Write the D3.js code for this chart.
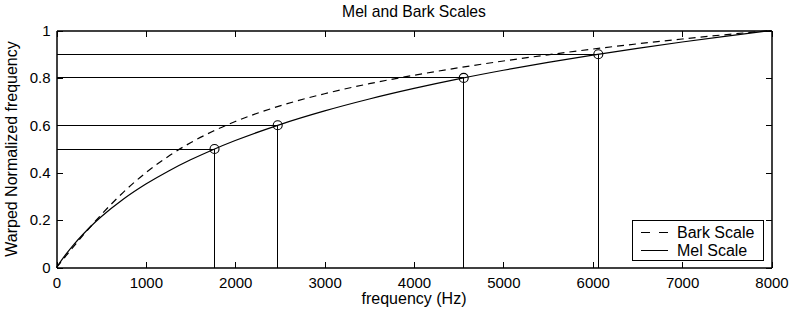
<!DOCTYPE html>
<html>
<head>
<meta charset="utf-8">
<script src="https://cdn.jsdelivr.net/npm/d3@7"></script>
<style>
  body { margin: 0; background: #fff; }
  text { font-family: "Liberation Sans", Arial, sans-serif; fill: #000; }
</style>
</head>
<body>
<svg id="svg" width="791" height="314"></svg>
<script>
const svg = d3.select("#svg");

// curve samples (frequency in Hz, warped value 0..1)
const freqs = [0, 100, 200, 300, 400, 500, 750, 1000, 1250, 1500, 1750, 2000, 2500,
  3000, 3500, 4000, 4500, 5000, 5500, 6000, 6500, 7000, 7500, 8000];
const melValues = [0, 0.053, 0.0997, 0.1415, 0.1794, 0.2139, 0.289, 0.3521, 0.4065,
  0.4544, 0.4971, 0.5357, 0.6031, 0.6607, 0.711, 0.7556, 0.7958, 0.8322, 0.8655,
  0.8963, 0.9249, 0.9515, 0.9765, 1];
const barkValues = [0, 0.0464, 0.0923, 0.1372, 0.1808, 0.2226, 0.3183, 0.4, 0.4688,
  0.5264, 0.5748, 0.6159, 0.682, 0.7333, 0.7755, 0.8112, 0.8428, 0.8714, 0.8975,
  0.9216, 0.9437, 0.9642, 0.9829, 1];

// marked points on the mel curve
const markFreqs = [1768, 2475, 4556, 6062];
const markLevels = [0.5, 0.6, 0.8, 0.9];

const xTicks = [0, 1000, 2000, 3000, 4000, 5000, 6000, 7000, 8000];
const yTicks = [0, 0.2, 0.4, 0.6, 0.8, 1];

const plotLeft = 56.5, plotRight = 771.5, plotTop = 30.5, plotBottom = 267.5;

const x = d3.scaleLinear().domain([0, 8000]).range([plotLeft, plotRight]);
const y = d3.scaleLinear().domain([0, 1]).range([plotBottom, plotTop]);

const tickFont = "15px";
const labelFont = "16px";

// title
svg.append("text")
  .attr("x", (plotLeft + plotRight) / 2)
  .attr("y", 17)
  .attr("text-anchor", "middle")
  .style("font-size", "15.7px")
  .text("Mel and Bark Scales");

// guide lines from the axes to the marked points
const guides = svg.append("g")
  .attr("stroke", "#000")
  .attr("stroke-width", 1)
  .attr("shape-rendering", "crispEdges");

guides.selectAll("line.h")
  .data(markFreqs)
  .join("line")
  .attr("class", "h")
  .attr("x1", x(0))
  .attr("x2", (d) => x(d))
  .attr("y1", (d, i) => y(markLevels[i]))
  .attr("y2", (d, i) => y(markLevels[i]));

guides.selectAll("line.v")
  .data(markFreqs)
  .join("line")
  .attr("class", "v")
  .attr("x1", (d) => x(d))
  .attr("x2", (d) => x(d))
  .attr("y1", y(0))
  .attr("y2", (d, i) => y(markLevels[i]));

const line = d3.line()
  .x((d) => x(d[0]))
  .y((d) => y(d[1]))
  .curve(d3.curveMonotoneX);

// Bark (dashed)
svg.append("path")
  .datum(freqs.map((f, i) => [f, barkValues[i]]))
  .attr("fill", "none")
  .attr("stroke", "#000")
  .attr("stroke-width", 1.2)
  .attr("stroke-dasharray", "7,5")
  .attr("d", line);

// Mel (solid)
svg.append("path")
  .datum(freqs.map((f, i) => [f, melValues[i]]))
  .attr("fill", "none")
  .attr("stroke", "#000")
  .attr("stroke-width", 1.2)
  .attr("d", line);

// circles
svg.append("g")
  .selectAll("circle")
  .data(markFreqs)
  .join("circle")
  .attr("cx", (d) => x(d))
  .attr("cy", (d, i) => y(markLevels[i]))
  .attr("r", 4.5)
  .attr("fill", "none")
  .attr("stroke", "#000")
  .attr("stroke-width", 1.1);

// axes, ticks pointing inward on all four sides
const styleAxis = (g) => {
  g.select(".domain").attr("stroke", "#000").attr("stroke-width", 1.5);
  g.selectAll(".tick line").attr("stroke", "#000").attr("shape-rendering", "crispEdges");
  g.selectAll("text").style("font-size", tickFont).attr("fill", "#000")
    .style("font-family", "'Liberation Sans', Arial, sans-serif");
};

svg.append("g")
  .attr("transform", `translate(0,${plotBottom})`)
  .call(d3.axisBottom(x).tickValues(xTicks).tickSizeInner(-6).tickSizeOuter(0)
    .tickPadding(10).tickFormat(d3.format("")))
  .call(styleAxis);

svg.append("g")
  .attr("transform", `translate(0,${plotTop})`)
  .call(d3.axisTop(x).tickValues(xTicks).tickSizeInner(-6).tickSizeOuter(0).tickFormat(""))
  .call(styleAxis);

svg.append("g")
  .attr("transform", `translate(${plotLeft},0)`)
  .call(d3.axisLeft(y).tickValues(yTicks).tickSizeInner(-6).tickSizeOuter(0)
    .tickPadding(6).tickFormat(d3.format("")))
  .call(styleAxis);

svg.append("g")
  .attr("transform", `translate(${plotRight},0)`)
  .call(d3.axisRight(y).tickValues(yTicks).tickSizeInner(-6).tickSizeOuter(0).tickFormat(""))
  .call(styleAxis);

// axis labels
svg.append("text")
  .attr("x", (plotLeft + plotRight) / 2)
  .attr("y", 304)
  .attr("text-anchor", "middle")
  .style("font-size", labelFont)
  .text("frequency (Hz)");

svg.append("text")
  .attr("transform", `translate(17,${(plotTop + plotBottom) / 2}) rotate(-90)`)
  .attr("text-anchor", "middle")
  .style("font-size", labelFont)
  .text("Warped Normalized frequency");

// legend
const legend = svg.append("g");
legend.append("rect")
  .attr("x", 632.5)
  .attr("y", 220.5)
  .attr("width", 131)
  .attr("height", 40)
  .attr("fill", "#fff")
  .attr("stroke", "#000")
  .attr("stroke-width", 1.2)
  .attr("shape-rendering", "crispEdges");

const legendItems = [
  { label: "Bark Scale", dash: "9,9", ly: 232 },
  { label: "Mel Scale", dash: null, ly: 250 },
];

legend.selectAll("line")
  .data(legendItems)
  .join("line")
  .attr("x1", 641)
  .attr("x2", 668)
  .attr("y1", (d) => d.ly + 0.5)
  .attr("y2", (d) => d.ly + 0.5)
  .attr("stroke", "#000")
  .attr("stroke-dasharray", (d) => d.dash);

legend.selectAll("text")
  .data(legendItems)
  .join("text")
  .attr("x", 677)
  .attr("y", (d) => d.ly + 5.5)
  .style("font-size", labelFont)
  .text((d) => d.label);
</script>
</body>
</html>
